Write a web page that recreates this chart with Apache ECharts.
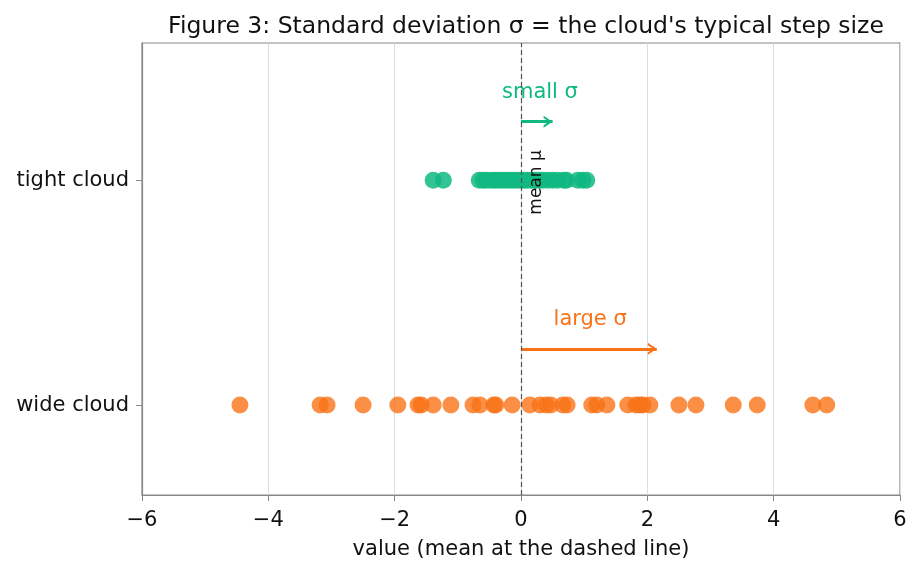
<!DOCTYPE html>
<html>
<head>
<meta charset="utf-8">
<script src="https://cdn.jsdelivr.net/npm/echarts@6/dist/echarts.min.js"></script>
<style>
  html, body { margin: 0; padding: 0; background: #fff; }
  #chart { width: 922px; height: 571px; }
</style>
</head>
<body>
<div id="chart"></div>
<script>
// cloud values
const tightCloud = [-1.39, -1.23, -0.66, -0.6, -0.55, -0.48, -0.42, -0.36, -0.3, -0.24, -0.18, -0.12,
  -0.06, 0.0, 0.05, 0.1, 0.16, 0.22, 0.28, 0.34, 0.42, 0.5, 0.58, 0.68, 0.72, 0.9, 0.98, 1.04];
const wideCloud = [-4.45, -3.18, -3.07, -2.5, -1.95, -1.63, -1.58, -1.39, -1.11, -0.76, -0.65,
  -0.43, -0.4, -0.14, 0.14, 0.3, 0.4, 0.47, 0.66, 0.73, 1.12, 1.2, 1.36, 1.69, 1.82, 1.88,
  1.93, 2.04, 2.5, 2.77, 3.36, 3.74, 4.62, 4.84];
const rowNames = ["wide cloud", "tight cloud"]; // y = 0, 1
const smallSigma = 0.5;
const largeSigma = 2.15;

const green = "#10b981";
const orange = "#f97316";
const font = "DejaVu Sans";
// open "->" arrow head, tip sits at the symbol centre (dummy point keeps the box symmetric)
const chevron = "path://M6,0 L6.01,0 Z M6,9 L12,18 L9.6,18 L6,12.6 L2.4,18 L0,18 Z";

var chart = echarts.init(document.getElementById("chart"));

var option = {
  animation: false,
  title: {
    text: "Figure 3: Standard deviation σ = the cloud's typical step size",
    left: 521,
    textAlign: "center",
    top: 10,
    textStyle: { fontFamily: font, fontSize: 23.5, fontWeight: "normal", color: "#111" }
  },
  grid: {
    left: 142,
    right: 22,
    top: 43,
    bottom: 76,
    show: true,
    borderColor: "#888",
    borderWidth: 1.2
  },
  xAxis: {
    type: "value",
    min: -6,
    max: 6,
    interval: 2,
    name: "value (mean at the dashed line)",
    nameLocation: "middle",
    nameGap: 44,
    nameTextStyle: { fontFamily: font, fontSize: 21, color: "#111" },
    axisLine: { show: true, onZero: false, lineStyle: { color: "#888", width: 1.2 } },
    axisTick: { show: true, length: 6, lineStyle: { color: "#888" } },
    axisLabel: {
      fontFamily: font,
      fontSize: 21,
      color: "#111",
      margin: 15,
      formatter: function (v) {
        return v < 0 ? "\u2212" + Math.abs(v) : String(v);
      }
    },
    splitLine: { show: true, lineStyle: { color: "#dcdcdc", width: 1 } }
  },
  yAxis: {
    type: "value",
    min: -0.4,
    max: 1.61,
    axisLine: { show: true, onZero: false, lineStyle: { color: "#888", width: 1.2 } },
    axisTick: { show: true, length: 6, customValues: [0, 1], lineStyle: { color: "#888" } },
    axisLabel: {
      customValues: [0, 1],
      fontFamily: font,
      fontSize: 21,
      color: "#111",
      margin: 13,
      formatter: function (v) {
        return rowNames[Math.round(v)];
      }
    },
    splitLine: { show: false }
  },
  series: [
    {
      name: "wide",
      type: "scatter",
      symbolSize: 17,
      itemStyle: { color: orange, opacity: 0.8 },
      data: wideCloud.map(function (v) { return [v, 0]; }),
      markLine: {
        silent: true,
        symbol: ["none", chevron],
        symbolSize: [12, 18],
        lineStyle: { color: orange, width: 3, type: "solid", opacity: 1 },
        itemStyle: { color: orange },
        label: { show: false },
        data: [[{ coord: [0, 0.25] }, { coord: [largeSigma, 0.25] }]]
      }
    },
    {
      name: "tight",
      type: "scatter",
      symbolSize: 17,
      itemStyle: { color: green, opacity: 0.85 },
      data: tightCloud.map(function (v) { return [v, 1]; }),
      markLine: {
        silent: true,
        symbol: ["none", chevron],
        symbolSize: [12, 18],
        lineStyle: { color: green, width: 3, type: "solid", opacity: 1 },
        itemStyle: { color: green },
        label: { show: false },
        data: [[{ coord: [0, 1.26] }, { coord: [smallSigma, 1.26] }]]
      }
    },
    {
      name: "mean",
      type: "line",
      data: [],
      markLine: {
        silent: true,
        symbol: "none",
        lineStyle: { color: "#555", width: 1.2, type: [5, 3] },
        label: { show: false },
        data: [{ xAxis: 0 }]
      }
    },
    {
      name: "labels",
      type: "scatter",
      symbolSize: 0,
      silent: true,
      itemStyle: { opacity: 1 },
      data: [
        { value: [smallSigma / 2 + 0.05, 1.39], label: { formatter: "small σ", color: green, fontSize: 21 } },
        { value: [largeSigma / 2 + 0.02, 0.38], label: { formatter: "large σ", color: orange, fontSize: 21 } },
        { value: [0.25, 0.99], label: { formatter: "mean μ", color: "#111", fontSize: 17, rotate: 90 } }
      ],
      label: {
        show: true,
        position: "inside",
        fontFamily: font
      }
    }
  ]
};

chart.setOption(option);
</script>
</body>
</html>
